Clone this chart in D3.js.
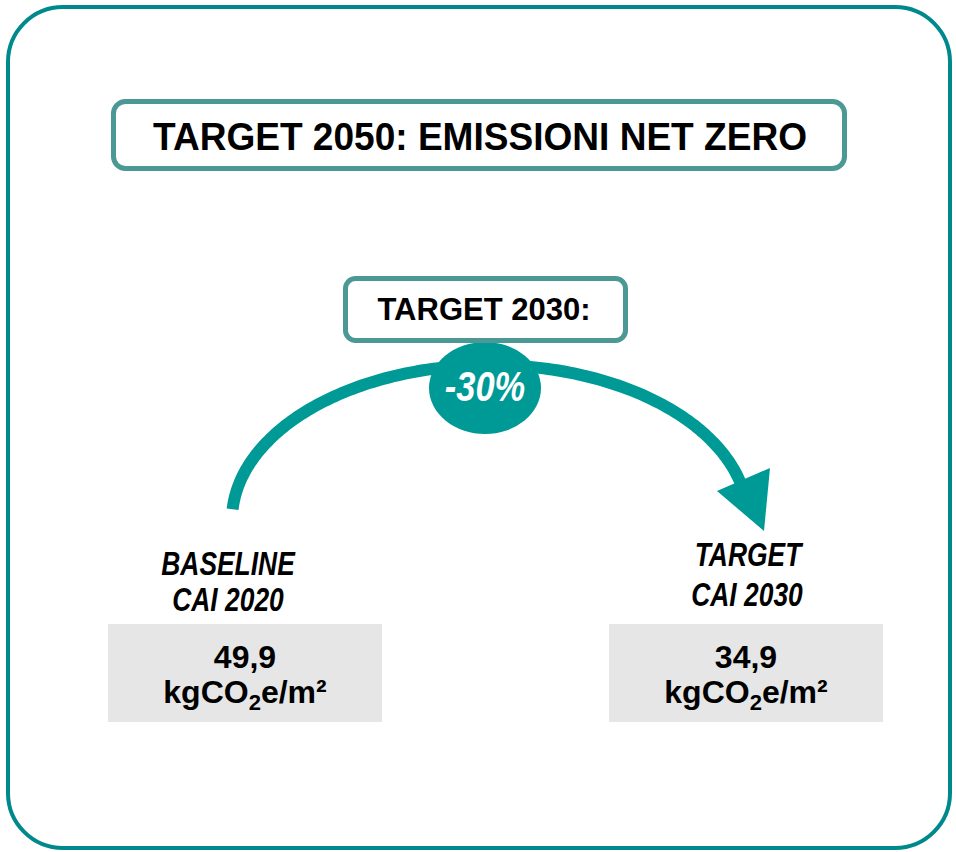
<!DOCTYPE html>
<html>
<head>
<meta charset="utf-8">
<script src="https://cdn.jsdelivr.net/npm/d3@7"></script>
<style>
  body { margin: 0; background: #fff; }
  text { font-family: "Liberation Sans", Arial, sans-serif; font-weight: bold; }
</style>
</head>
<body>
<div id="container"></div>
<script>
let w = 956;
let h = 852;

// data
let title = "TARGET 2050: EMISSIONI NET ZERO";
let midTitle = "TARGET 2030:";
let changeLabel = "-30%";
let categories = ["baseline", "target"];
let labelLine1 = ["BASELINE", "TARGET"];
let labelLine2 = ["CAI 2020", "CAI 2030"];
let values = ["49,9", "34,9"];
let unit = ["kgCO", "2", "e/m²"];

let teal = "#009a96";
let frame = "#00898c";
let boxStroke = "#4b9895";

let viz = d3.select('#container')
  .append('svg')
    .attr('width', w)
    .attr('height', h)
;

let x = d3.scalePoint().domain(categories).range([245, 746]);

// squeeze text horizontally (the original uses a narrow face)
function narrow(sel, k) {
  sel.each(function(){
    let len = this.getComputedTextLength();
    d3.select(this).attr('textLength', len * k).attr('lengthAdjust', 'spacingAndGlyphs');
  });
}

// outer frame
viz.append('rect')
  .attr('x', 8).attr('y', 7)
  .attr('width', 942).attr('height', 841)
  .attr('rx', 55)
  .attr('fill', 'none')
  .attr('stroke', frame)
  .attr('stroke-width', 4)
;

// title box
viz.append('rect')
  .attr('x', 113.5).attr('y', 101.5)
  .attr('width', 731).attr('height', 67)
  .attr('rx', 12)
  .attr('fill', '#fff')
  .attr('stroke', boxStroke)
  .attr('stroke-width', 5)
;
viz.append('text')
  .attr('x', 480).attr('y', 150)
  .attr('text-anchor', 'middle')
  .attr('font-size', '39px')
  .text(title)
  .call(narrow, 0.95)
;

// arc arrow: elliptical path
let cx = 490, cy = 520, rx = 258, ry = 155;
let arcPts = d3.range(-176, -12, 1).map(function(a){
  let t = a * Math.PI / 180;
  return [cx + rx * Math.cos(t), cy + ry * Math.sin(t)];
});
viz.append('path')
  .attr('d', d3.line().curve(d3.curveBasis)(arcPts))
  .attr('fill', 'none')
  .attr('stroke', teal)
  .attr('stroke-width', 12)
;
viz.append('path')
  .attr('d', 'M717,491 L770,468 L764,531 Z')
  .attr('fill', teal)
;

// change bubble
viz.append('ellipse')
  .attr('cx', 485).attr('cy', 388)
  .attr('rx', 56).attr('ry', 46)
  .attr('fill', teal)
;
viz.append('text')
  .attr('x', 485).attr('y', 401)
  .attr('text-anchor', 'middle')
  .attr('font-size', '42px')
  .attr('font-style', 'italic')
  .attr('font-weight', 'normal')
  .attr('fill', '#fff')
  .text(changeLabel)
  .call(narrow, 0.82)
;

// mid title box
viz.append('rect')
  .attr('x', 345.5).attr('y', 278.5)
  .attr('width', 280).attr('height', 62)
  .attr('rx', 10)
  .attr('fill', '#fff')
  .attr('stroke', boxStroke)
  .attr('stroke-width', 5)
;
viz.append('text')
  .attr('x', 484).attr('y', 320)
  .attr('text-anchor', 'middle')
  .attr('font-size', '31px')
  .text(midTitle)
;

// category labels (narrow italic)
let labels = viz.append('g').classed('labels', true);
labels.selectAll('text.l1').data(categories).enter()
  .append('text')
  .attr('class', 'l1')
  .attr('x', function(d, i){ return x(d) + (i == 0 ? -17 : 2); })
  .attr('y', function(d, i){ return i == 0 ? 575 : 566; })
  .attr('text-anchor', 'middle')
  .attr('font-size', '33px')
  .attr('font-style', 'italic')
  .text(function(d, i){ return labelLine1[i]; })
  .call(narrow, 0.8)
;
labels.selectAll('text.l2').data(categories).enter()
  .append('text')
  .attr('class', 'l2')
  .attr('x', function(d, i){ return x(d) + (i == 0 ? -17 : 1); })
  .attr('y', function(d, i){ return i == 0 ? 611 : 606; })
  .attr('text-anchor', 'middle')
  .attr('font-size', '33px')
  .attr('font-style', 'italic')
  .text(function(d, i){ return labelLine2[i]; })
  .call(narrow, 0.8)
;

// value boxes
let boxes = viz.append('g').classed('boxes', true);
boxes.selectAll('rect').data(categories).enter()
  .append('rect')
  .attr('x', function(d){ return x(d) - 137; })
  .attr('y', 624)
  .attr('width', 274)
  .attr('height', 98)
  .attr('fill', '#e6e6e6')
;
boxes.selectAll('text.v').data(categories).enter()
  .append('text')
  .attr('class', 'v')
  .attr('x', function(d){ return x(d); })
  .attr('y', 668)
  .attr('text-anchor', 'middle')
  .attr('font-size', '32px')
  .text(function(d, i){ return values[i]; })
;
let u = boxes.selectAll('text.u').data(categories).enter()
  .append('text')
  .attr('class', 'u')
  .attr('x', function(d){ return x(d); })
  .attr('y', 703)
  .attr('text-anchor', 'middle')
  .attr('font-size', '32px')
;
u.append('tspan').text(unit[0]);
u.append('tspan').attr('font-size', '22px').attr('dy', 7).text(unit[1]);
u.append('tspan').attr('dy', -7).text(unit[2]);
</script>
</body>
</html>
